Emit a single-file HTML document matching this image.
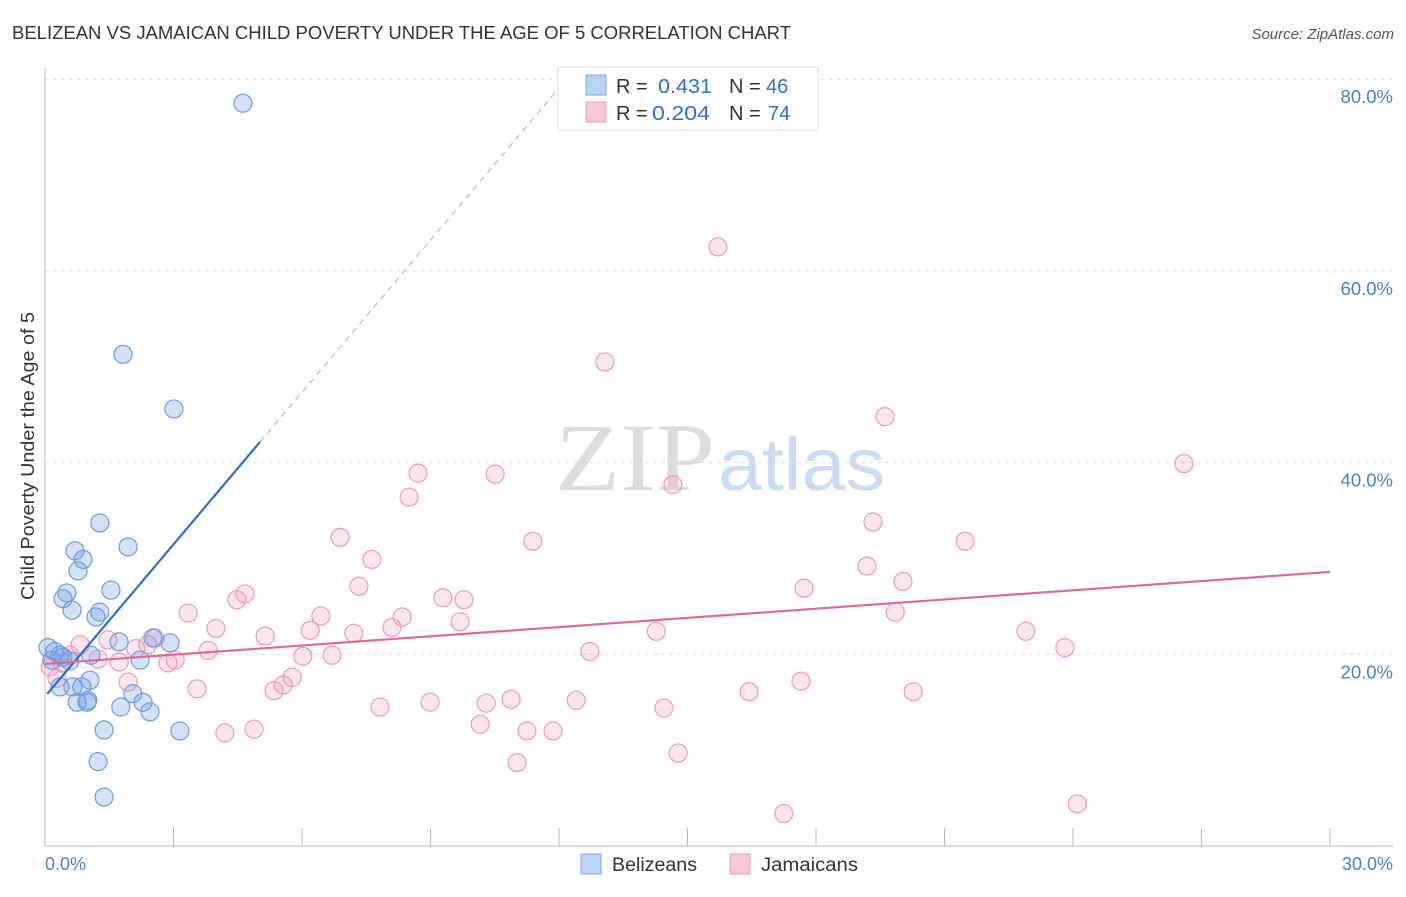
<!DOCTYPE html>
<html><head><meta charset="utf-8"><style>
body{margin:0;background:#fff;font-family:"Liberation Sans",sans-serif;}
</style></head><body>
<svg width="1406" height="892" id="c" xmlns="http://www.w3.org/2000/svg" style="font-family:'Liberation Sans',sans-serif">
<text x="12" y="39" font-size="18" fill="#333" textLength="779" lengthAdjust="spacingAndGlyphs">BELIZEAN VS JAMAICAN CHILD POVERTY UNDER THE AGE OF 5 CORRELATION CHART</text>
<text x="1394" y="39" font-size="15" fill="#555" font-style="italic" text-anchor="end">Source: ZipAtlas.com</text>
<g>
<text x="555" y="490" font-size="96" fill="#ddd" font-family="Liberation Serif" textLength="160" lengthAdjust="spacingAndGlyphs">ZIP</text>
<text x="718" y="490" font-size="74" fill="#c9dcf3" textLength="167" lengthAdjust="spacingAndGlyphs">atlas</text>
</g>
<g id="grid"></g>
<line x1="45" y1="68" x2="45" y2="846" stroke="#bbb"/>
<line x1="45" y1="846" x2="1393" y2="846" stroke="#bbb"/>
<text transform="translate(34,456) rotate(-90)" font-size="18" fill="#333" text-anchor="middle" textLength="288" lengthAdjust="spacingAndGlyphs">Child Poverty Under the Age of 5</text>
<text x="45" y="870" font-size="18" fill="#4a7fd4">0.0%</text>
<text x="1393" y="870" font-size="18" fill="#4a7fd4" text-anchor="end">30.0%</text>
<g id="pts"></g>
<g id="lines"></g>
<g>
<rect x="558" y="67" width="260" height="63" fill="#fff" stroke="#ddd"/>
<rect x="586" y="75" width="20" height="20" fill="#b9d3f5" stroke="#7fa8e4"/>
<rect x="586" y="102" width="20" height="20" fill="#f9c9d8" stroke="#ee9bb6"/>
<text x="616" y="93" font-size="20" fill="#333">R =</text><text x="658" y="93" font-size="20" fill="#2f6fd1" textLength="54" lengthAdjust="spacingAndGlyphs">0.431</text>
<text x="729" y="93" font-size="20" fill="#333">N =</text><text x="766" y="93" font-size="20" fill="#2f6fd1">46</text>
<text x="616" y="120" font-size="20" fill="#333">R =</text><text x="652" y="120" font-size="20" fill="#2f6fd1" textLength="58" lengthAdjust="spacingAndGlyphs">0.204</text>
<text x="729" y="120" font-size="20" fill="#333">N =</text><text x="768" y="120" font-size="20" fill="#2f6fd1">74</text>
</g>
<g>
<rect x="581" y="854" width="20" height="20" fill="#b9d3f5" stroke="#7fa8e4"/>
<text x="612" y="871" font-size="19" fill="#333" textLength="85" lengthAdjust="spacingAndGlyphs">Belizeans</text>
<rect x="730" y="854" width="20" height="20" fill="#f9c9d8" stroke="#ee9bb6"/>
<text x="761" y="871" font-size="19" fill="#333" textLength="97" lengthAdjust="spacingAndGlyphs">Jamaicans</text>
</g>
</svg>
<script>
const yTicks=[20,40,60,80];
const yTickLabels=["20.0%","40.0%","60.0%","80.0%"];
const xTicks=[0,3,6,9,12,15,18,21,24,27,30];
const belX=[4.62,1.82,3.01,1.28,1.94,0.70,0.89,0.77,0.51,0.42,1.54,0.63,1.28,1.19,2.52,2.92,1.73,0.07,0.23,0.35,0.16,0.58,1.07,2.22,0.35,0.65,0.86,1.05,0.75,0.98,2.05,2.29,1.77,2.45,1.38,3.15,1.24,1.38,0.42,1.0];
const belY=[77.5,51.3,45.6,33.7,31.2,30.8,29.9,28.7,26.4,25.8,26.7,24.6,24.4,23.9,21.7,21.2,21.3,20.7,20.3,19.9,19.4,19.3,19.9,19.4,16.6,16.6,16.6,17.3,15.0,15.0,15.9,15.0,14.5,14.0,12.1,12.0,8.8,5.1,19.7,15.2];
const jamX=[15.71,13.07,19.61,26.59,8.71,10.51,14.66,8.50,19.33,6.89,11.39,21.48,7.63,7.33,17.72,19.19,20.03,4.67,4.48,9.29,9.78,3.34,6.44,8.34,19.85,9.69,8.10,3.99,6.19,14.27,22.90,7.21,5.14,2.57,1.47,0.82,2.40,23.81,2.12,3.81,12.72,0.58,1.24,1.73,3.04,2.87,6.02,6.70,0.40,0.12,0.28,5.77,5.56,1.94,3.55,5.35,16.44,20.27,17.65,10.88,12.40,8.99,10.30,7.82,14.45,10.16,11.25,11.86,4.88,4.20,14.78,11.02,24.10,17.25];
const jamY=[62.5,50.5,44.8,39.9,38.9,38.8,37.7,36.4,33.8,32.2,31.8,31.8,29.9,27.1,26.9,29.2,27.6,26.3,25.7,25.9,25.7,24.3,24.0,23.9,24.4,23.4,22.8,22.7,22.5,22.4,22.4,22.2,21.9,21.7,21.5,21.0,21.0,20.7,20.6,20.4,20.3,19.9,19.5,19.2,19.4,19.1,19.8,19.9,19.1,18.7,17.5,17.6,16.8,17.1,16.4,16.2,16.1,16.1,17.2,15.3,15.2,15.0,14.9,14.5,14.4,12.7,12.0,12.0,12.2,11.8,9.7,8.7,4.4,3.4];
const belTrend=[15.6,5.29];
const jamTrend=[19.0,0.32];
const NS="http://www.w3.org/2000/svg";
const X=v=>45+v*(1285/30);
const Y=v=>846-v*9.585;
function mk(t,a,p){const e=document.createElementNS(NS,t);for(const k in a)e.setAttribute(k,a[k]);p.appendChild(e);return e;}
const grid=document.getElementById('grid');
yTicks.forEach((t,i)=>{
 const l=mk('line',{x1:45,x2:1393,y1:Y(t),y2:Y(t),stroke:'#ddd','stroke-dasharray':'4,4'},grid);
 
 
 const tx=mk('text',{x:1393,y:Y(t)+24,'font-size':18.5,fill:'#4a7fd4','text-anchor':'end'},grid);
 tx.textContent=yTickLabels[i];
 
 
});
xTicks.forEach(t=>{
 const l=mk('line',{x1:X(t),x2:X(t),y1:828,y2:846,stroke:'#bbb'},grid);
 
 
});
const pts=document.getElementById('pts');
jamX.forEach((x,i)=>{
 const c=mk('circle',{cx:X(x),cy:Y(jamY[i]),r:9,fill:'rgba(244,160,188,0.28)',stroke:'#ec9ab5','stroke-width':1.2},pts);
 
 
});
belX.forEach((x,i)=>{
 const c=mk('circle',{cx:X(x),cy:Y(belY[i]),r:9,fill:'rgba(110,160,230,0.3)',stroke:'#6f9be0','stroke-width':1.2},pts);
 
 
});
const lines=document.getElementById('lines');
const bf=x=>belTrend[0]+belTrend[1]*x, jf=x=>jamTrend[0]+jamTrend[1]*x;
let l1=mk('line',{x1:X(0.05),y1:Y(bf(0.05)),x2:X(5.02),y2:Y(bf(5.02)),stroke:'#2a6fd6','stroke-width':2.2},lines);


const xe=(80-belTrend[0])/belTrend[1];
let l2=mk('line',{x1:X(5.02),y1:Y(bf(5.02)),x2:X(xe),y2:Y(bf(xe)),stroke:'#8fb0e0','stroke-width':1,'stroke-dasharray':'6,5'},lines);


let l3=mk('line',{x1:X(0),y1:Y(jf(0)),x2:X(30),y2:Y(jf(30)),stroke:'#e06a96','stroke-width':2.2},lines);


</script>
</body></html>
